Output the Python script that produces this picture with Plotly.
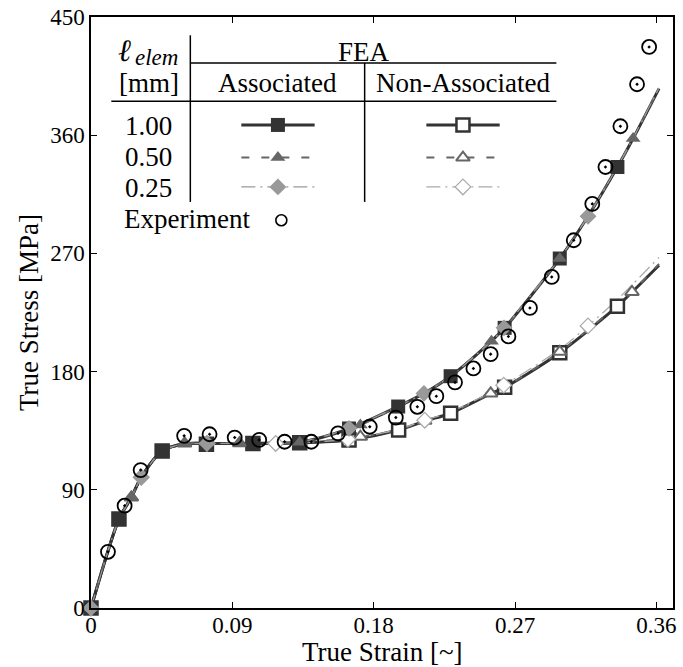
import plotly.graph_objects as go

# ---------------- data ----------------
# Experiment
exp_strain = [0.0108, 0.0214, 0.0316, 0.0593, 0.0755, 0.0915, 0.1071, 0.1233, 0.1403,
              0.1573, 0.1775, 0.1941, 0.2078, 0.2199, 0.2318, 0.2435, 0.2545, 0.2658,
              0.2795, 0.2934, 0.3074, 0.3192, 0.3276, 0.3371, 0.3477, 0.3554]
exp_stress = [42.8, 77.9, 105.0, 131.1, 132.3, 129.8, 128.0, 126.6, 126.6,
              133.0, 138.0, 145.0, 153.2, 161.3, 171.8, 182.4, 193.3, 206.8,
              228.5, 252.1, 280.0, 307.7, 335.8, 366.8, 398.8, 427.2]

# Associated FEA curves
assoc_100_strain = [0, 0.0178, 0.0257, 0.0320, 0.0453, 0.0596, 0.0738, 0.1031, 0.1329, 0.1643,
                    0.1956, 0.2120, 0.2290, 0.2550, 0.2634, 0.2985, 0.3165, 0.3352, 0.3452, 0.3617]
assoc_100_stress = [0, 67.7, 84.2, 99.5, 119.5, 125.0, 125.3, 125.4, 126.3, 136.5,
                    153.4, 163.4, 176.5, 203.2, 213.3, 266.1, 298.3, 335.8, 357.5, 395.5]
assoc_050_strain = [0, 0.0178, 0.0257, 0.0320, 0.0453, 0.0596, 0.0738, 0.1031, 0.1329, 0.1715,
                    0.1956, 0.2120, 0.2290, 0.2550, 0.2634, 0.2985, 0.3165, 0.3352, 0.3452, 0.3617]
assoc_050_stress = [0, 67.7, 84.2, 99.5, 119.5, 125.0, 125.3, 125.6, 126.3, 139.3,
                    153.6, 163.6, 176.7, 203.2, 213.3, 266.1, 298.5, 336.0, 357.5, 396.0]
assoc_025_strain = [0, 0.0178, 0.0257, 0.0320, 0.0453, 0.0596, 0.0738, 0.1031, 0.1329, 0.1643,
                    0.1956, 0.2120, 0.2290, 0.2550, 0.2630, 0.2985, 0.3165, 0.3352, 0.3452, 0.3617]
assoc_025_stress = [0, 67.7, 84.2, 99.5, 119.5, 125.0, 125.3, 125.4, 126.5, 136.8,
                    153.6, 163.4, 176.6, 203.3, 213.3, 266.3, 298.3, 336.0, 357.8, 396.0]

# Non-associated FEA curves
nonassoc_100_strain = [0, 0.0178, 0.0257, 0.0320, 0.0453, 0.0596, 0.0738, 0.1031, 0.1329, 0.1643,
                       0.1959, 0.2125, 0.2290, 0.2545, 0.2634, 0.2985, 0.3352, 0.3445, 0.3617]
nonassoc_100_stress = [0, 67.7, 84.2, 99.5, 119.5, 125.0, 125.3, 125.3, 125.8, 128.0,
                       135.5, 142.3, 148.3, 163.2, 168.0, 194.4, 229.8, 240.5, 261.0]
nonassoc_050_strain = [0, 0.0178, 0.0257, 0.0320, 0.0453, 0.0596, 0.0738, 0.1031, 0.1329, 0.1715,
                       0.1959, 0.2125, 0.2290, 0.2545, 0.2634, 0.2985, 0.3352, 0.3445, 0.3617]
nonassoc_050_stress = [0, 67.7, 84.2, 99.5, 119.5, 125.0, 125.3, 125.4, 125.8, 130.4,
                       135.7, 142.5, 148.5, 163.4, 168.2, 195.1, 230.5, 240.7, 262.0]
nonassoc_025_strain = [0, 0.0178, 0.0257, 0.0320, 0.0453, 0.0596, 0.0738, 0.1031, 0.1329, 0.1636,
                       0.1959, 0.2125, 0.2290, 0.2628, 0.2985, 0.3165, 0.3352, 0.3445, 0.3617]
nonassoc_025_stress = [0, 67.7, 84.2, 99.5, 119.5, 125.0, 125.3, 125.4, 125.9, 128.4,
                       136.2, 143.0, 149.3, 169.7, 197.0, 214.8, 235.0, 246.0, 266.9]

# Marker locations on each FEA curve
assoc_100_mk_strain = [0, 0.0178, 0.0453, 0.0735, 0.1031, 0.1329, 0.1643, 0.1956, 0.2290, 0.2634, 0.2985, 0.3352]
assoc_100_mk_stress = [0, 67.7, 119.5, 124.6, 125.4, 126.3, 136.7, 153.4, 176.5, 213.3, 266.1, 335.8]
assoc_050_mk_strain = [0, 0.0257, 0.0596, 0.0946, 0.1329, 0.1715, 0.2550, 0.2985, 0.3452]
assoc_050_mk_stress = [0, 84.2, 125.3, 125.8, 126.3, 139.3, 203.2, 266.1, 357.5]
assoc_025_mk_strain = [0, 0.0320, 0.0738, 0.1643, 0.2120, 0.2630, 0.3165]
assoc_025_mk_stress = [0, 99.5, 125.3, 136.8, 163.4, 213.3, 298.3]
nonassoc_100_mk_strain = [0, 0.0178, 0.0453, 0.0735, 0.1031, 0.1329, 0.1643, 0.1959, 0.2290, 0.2634, 0.2985, 0.3352]
nonassoc_100_mk_stress = [0, 67.7, 119.5, 124.6, 125.3, 125.8, 127.9, 135.5, 148.2, 168.0, 194.3, 229.8]
nonassoc_050_mk_strain = [0, 0.0257, 0.0596, 0.0946, 0.1329, 0.1715, 0.2125, 0.2545, 0.2985, 0.3445]
nonassoc_050_mk_stress = [0, 84.2, 125.3, 125.5, 125.8, 130.4, 142.5, 163.4, 195.1, 240.7]
nonassoc_025_mk_strain = [0, 0.0320, 0.0738, 0.1176, 0.1636, 0.2125, 0.2628, 0.3165]
nonassoc_025_mk_stress = [0, 99.5, 125.3, 125.3, 128.4, 143.0, 169.7, 214.8]

x_tickvals = [0, 0.09, 0.18, 0.27, 0.36]
x_ticktext = ["0", "0.09", "0.18", "0.27", "0.36"]
y_tickvals = [0, 90, 180, 270, 360, 450]
y_ticktext = ["0", "90", "180", "270", "360", "450"]
x_title = "True Strain [~]"
y_title = "True Stress [MPa]"

# ---------------- styles ----------------
FONT = "'Liberation Serif', 'Times New Roman', 'DejaVu Serif', serif"
C1, C2, C3, C3o = "#333333", "#666666", "#999999", "#aaaaaa"
DASH2 = "8px,12px"
DASH3 = "14px,5px,2px,5px"

styles = {
    "a100": dict(line=dict(color=C1, width=3), marker=dict(symbol="square", size=14, color=C1, line=dict(width=0))),
    "a050": dict(line=dict(color=C2, width=2, dash=DASH2), marker=dict(symbol="triangle-up", size=13, color=C2, line=dict(width=0))),
    "a025": dict(line=dict(color=C3, width=1.3, dash=DASH3), marker=dict(symbol="diamond", size=13, color=C3, line=dict(width=0))),
    "n100": dict(line=dict(color=C1, width=3), marker=dict(symbol="square", size=13, color="white", line=dict(color=C1, width=2.5))),
    "n050": dict(line=dict(color=C2, width=2, dash=DASH2), marker=dict(symbol="triangle-up", size=12, color="white", line=dict(color=C2, width=2))),
    "n025": dict(line=dict(color=C3o, width=1.3, dash=DASH3), marker=dict(symbol="diamond", size=12, color="white", line=dict(color=C3o, width=1.3))),
}

fig = go.Figure()

series = [
    ("n100", nonassoc_100_strain, nonassoc_100_stress, nonassoc_100_mk_strain, nonassoc_100_mk_stress),
    ("n050", nonassoc_050_strain, nonassoc_050_stress, nonassoc_050_mk_strain, nonassoc_050_mk_stress),
    ("n025", nonassoc_025_strain, nonassoc_025_stress, nonassoc_025_mk_strain, nonassoc_025_mk_stress),
    ("a100", assoc_100_strain, assoc_100_stress, assoc_100_mk_strain, assoc_100_mk_stress),
    ("a050", assoc_050_strain, assoc_050_stress, assoc_050_mk_strain, assoc_050_mk_stress),
    ("a025", assoc_025_strain, assoc_025_stress, assoc_025_mk_strain, assoc_025_mk_stress),
]
# lines first, then markers
for key, xs, ys, mx, my in series:
    fig.add_trace(go.Scatter(x=xs, y=ys, mode="lines", line=styles[key]["line"], line_shape="spline",
                             line_smoothing=0.8, hoverinfo="skip", showlegend=False, cliponaxis=False))
for key, xs, ys, mx, my in series:
    fig.add_trace(go.Scatter(x=mx, y=my, mode="markers", marker=styles[key]["marker"],
                             showlegend=False, cliponaxis=False))

fig.add_trace(go.Scatter(x=exp_strain, y=exp_stress, mode="markers",
                         marker=dict(symbol="circle-open-dot", size=14, color="black", line=dict(width=1.8)),
                         showlegend=False, cliponaxis=False))

# ---------------- custom table legend (pixel overlay axes) ----------------
L, R, T, B = 91.4, 673.3, 16.7, 608.0
line_kw = dict(color="black", width=1.5)
for (x0, y0, x1, y1) in [(190.7, 35, 190.7, 201.7), (190.7, 62.7, 556.7, 62.7),
                         (365, 62.7, 365, 201.7), (111.7, 101, 556.7, 101)]:
    fig.add_shape(type="line", xref="x2", yref="y2", x0=x0, y0=y0, x1=x1, y1=y1, line=line_kw)

row_y = {"100": 124.7, "050": 157.3, "025": 186.7}
col = {"a": (241.7, 315.0, 278.3), "n": (426.7, 500.0, 463.3)}
for c in ("a", "n"):
    for r in ("100", "050", "025"):
        st = styles[c + r]
        x0, x1, xm = col[c]
        y = row_y[r]
        fig.add_trace(go.Scatter(x=[x0, x1], y=[y, y], mode="lines", line=st["line"], xaxis="x2", yaxis="y2",
                                 showlegend=False, hoverinfo="skip"))
        fig.add_trace(go.Scatter(x=[xm], y=[y], mode="markers", marker=st["marker"], xaxis="x2", yaxis="y2",
                                 showlegend=False, hoverinfo="skip"))
fig.add_trace(go.Scatter(x=[281.7], y=[220], mode="markers", xaxis="x2", yaxis="y2",
                         marker=dict(symbol="circle-open", size=11, color="black", line=dict(width=1.6)),
                         showlegend=False, hoverinfo="skip"))

LF = dict(family=FONT, size=27, color="black")
texts = [
    ("[mm]", 149, 83),
    ("FEA", 364, 52),
    ("Associated", 277.5, 83),
    ("Non-Associated", 463.7, 83),
    ("1.00", 149, 126),
    ("0.50", 149, 157),
    ("0.25", 149, 187.5),
    ("Experiment", 187, 219),
]
for t, x, y in texts:
    fig.add_annotation(text=t, x=x, y=y, xref="x2", yref="y2", showarrow=False, font=LF,
                       xanchor="center", yanchor="middle")
# header symbol: script l with italic subscript "elem"
fig.add_annotation(text="<i>ℓ</i>", x=133, y=50, xref="x2", yref="y2", showarrow=False,
                   font=dict(family=FONT, size=31, color="black"), xanchor="right", yanchor="middle")
fig.add_annotation(text="<i>elem</i>", x=133, y=57, xref="x2", yref="y2", showarrow=False,
                   font=dict(family=FONT, size=23, color="black"), xanchor="left", yanchor="middle")

# axis titles placed in the margins
fig.add_annotation(text=x_title, x=0.5, y=-(652 - B) / (B - T), xref="paper", yref="paper", showarrow=False,
                   font=dict(family=FONT, size=27, color="black"), xanchor="center", yanchor="middle")
fig.add_annotation(text=y_title, x=-(L - 29) / (R - L), y=0.5, xref="paper", yref="paper", showarrow=False,
                   textangle=-90, font=dict(family=FONT, size=27, color="black"),
                   xanchor="center", yanchor="middle")

axis_common = dict(showline=True, linecolor="black", linewidth=1.5, mirror="ticks", ticks="inside",
                   ticklen=6, tickwidth=1.2, tickcolor="black", showgrid=False, zeroline=False,
                   automargin=False, tickfont=dict(family=FONT, size=23, color="black"))

fig.update_layout(
    width=683, height=667,
    font=dict(family=FONT),
    margin=dict(l=L, r=683 - R, t=T, b=667 - B, pad=0, autoexpand=False),
    plot_bgcolor="white", paper_bgcolor="white",
    xaxis=dict(range=[0, 0.3706], tickvals=x_tickvals, ticktext=x_ticktext, ticklabelstandoff=-4,
               **axis_common),
    yaxis=dict(range=[0, 450], tickvals=y_tickvals, ticktext=y_ticktext, **axis_common),
    xaxis2=dict(overlaying="x", range=[L, R], visible=False, anchor="y2", fixedrange=True),
    yaxis2=dict(overlaying="y", range=[B, T], visible=False, anchor="x2", fixedrange=True),
)

fig.write_html("out.html")
